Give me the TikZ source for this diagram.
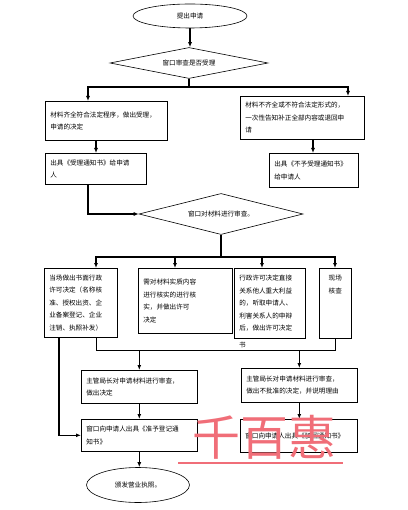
\documentclass[tikz,border=0pt]{standalone}
\usepackage{fontspec}
\newfontfamily\cjk{Noto Sans CJK SC}
\usetikzlibrary{shapes.geometric,arrows.meta}
\definecolor{wmred}{RGB}{240,110,120}
\tikzset{
  txt/.style={font=\cjk\fontsize{6.6}{12.5}\selectfont},
  box/.style={draw, line width=0.6pt, txt, align=left, inner xsep=5pt, inner ysep=0pt, anchor=north west},
  oval/.style={draw, ellipse, line width=0.6pt, txt, inner sep=0pt},
  dia/.style={draw, diamond, aspect=5, line width=0.6pt, txt, inner sep=0pt},
  conn/.style={line width=1.1pt, -{Latex[length=5pt,width=4pt]}},
  link/.style={line width=1.1pt},
  thin link/.style={line width=0.6pt},
  wm/.style={text=wmred, font=\cjk\fontsize{48}{50}\selectfont, inner sep=0pt},
}
\begin{document}
\begin{tikzpicture}[x=1pt,y=-1pt]
\useasboundingbox (0,0) rectangle (407,510);
% nodes
\node[oval, minimum width=114pt, minimum height=24pt] (start) at (190,16) {提出申请};
\node[dia, minimum width=158pt, minimum height=31pt] (d1) at (189,63) {窗口审查是否受理};
\node[box, minimum width=122pt, minimum height=39pt, text width=112pt] (b1) at (45,101) {材料齐全符合法定程序，做出受理，\\申请的决定};
\node[box, minimum width=124pt, minimum height=43pt, text width=114pt] (b2) at (240,96) {材料不齐全或不符合法定形式的，\\一次性告知补正全部内容或退回申\\请};
\node[box, minimum width=101pt, minimum height=31pt, text width=91pt] (b3) at (45,153) {出具《受理通知书》给申请\\人};
\node[box, minimum width=89pt, minimum height=34pt, text width=79pt] (b4) at (269,153) {出具《不予受理通知书》\\给申请人};
\node[dia, minimum width=164pt, minimum height=41pt] (d2) at (221,214) {窗口对材料进行审查。};
\node[box, minimum width=73pt, minimum height=69pt, text width=63pt] (cA) at (44,268) {当场做出书面行政\\许可决定（名称核\\准、授权出资、企\\业备案登记、企业\\注销、执照补发）};
\node[box, minimum width=94pt, minimum height=65pt, text width=84pt] (cB) at (138,268) {需对材料实质内容\\进行核实的进行核\\实，并做出许可\\决定};
\node[box, minimum width=71pt, minimum height=70pt, text width=61pt] (cC) at (234,268) {行政许可决定直接\\关系他人重大利益\\的，听取申请人、\\利害关系人的申辩\\后，做出许可决定};
\node[txt, anchor=west, inner sep=0pt] (cC6) at (239,345) {书};
\node[draw, line width=0.6pt, txt, anchor=north west, inner sep=0pt, minimum width=32pt, minimum height=70pt] (cD) at (319,268) {\parbox[c][70pt][t]{32pt}{\centering\vspace{7pt}现场\\核查}};
\node[box, minimum width=116pt, minimum height=33pt, text width=106pt] (m1) at (81,370) {主管局长对申请材料进行审查，\\做出决定};
\node[box, minimum width=116pt, minimum height=34pt, text width=106pt] (m2) at (241,368) {主管局长对申请材料进行审查，\\做出不批准的决定，并说明理由};
\node[box, minimum width=116pt, minimum height=32pt, text width=106pt] (f1) at (81,419) {窗口向申请人出具《准予登记通\\知书》};
\node[box, minimum width=117pt, minimum height=33pt, text width=107pt] (f2) at (240,419) {窗口向申请人出具《驳回通知书》};
\node[oval, minimum width=103pt, minimum height=35pt] (end) at (138,485) {颁发营业执照。};
% connectors
\draw[conn] (start.south) -- (start.south |- d1.north);
\coordinate (j1) at (189,87);
\draw[link] (d1.south) -- (j1);
\draw[conn] (j1) -| ([xshift=43pt]b1.north west);
\draw[conn] (j1) -| ([xshift=108pt]b2.north west);
\draw[conn] ([xshift=51pt]b1.south west) -- ([xshift=51pt]b3.north west);
\draw[conn] ([xshift=73pt]b2.south west) -- ([xshift=44pt]b4.north west);
\draw[conn] ([xshift=43pt]b3.south west) |- (d2.west);
\coordinate (j2) at (221,257);
\draw[link] (d2.south) -- (j2);
\draw[conn] (j2) -| ([xshift=52pt]cA.north west);
\draw[conn] (j2) -| ([xshift=16pt]cD.north west);
\draw[conn] ([xshift=37pt]cB.north west |- j2) -- ([xshift=37pt]cB.north west);
\draw[conn] ([xshift=28pt]cC.north west |- j2) -- ([xshift=28pt]cC.north west);
\coordinate (j3l) at (96,350);
\coordinate (j3r) at (335,350);
\draw[thin link] ([xshift=52pt]cA.south west) -- (j3l) -- (j3r) -- ([xshift=16pt]cD.south west);
\draw[conn] (m1.north |- j3l) -- (m1.north);
\draw[conn] (m2.north |- j3l) -- (m2.north);
\draw[conn] ([xshift=15pt]cA.south west) |- (f1.west);
\draw[conn] (m1.south) -- (f1.north);
\draw[conn] (m2.south) -- (m2.south |- f2.north);
\draw[conn] (f1.south) -- (f1.south |- end.north);
% watermark
\node[wm] (wm) at (264,437) {千百惠};
\draw[wmred, line width=1.2pt] (178,463) -- (343,463);
\end{tikzpicture}
\end{document}
